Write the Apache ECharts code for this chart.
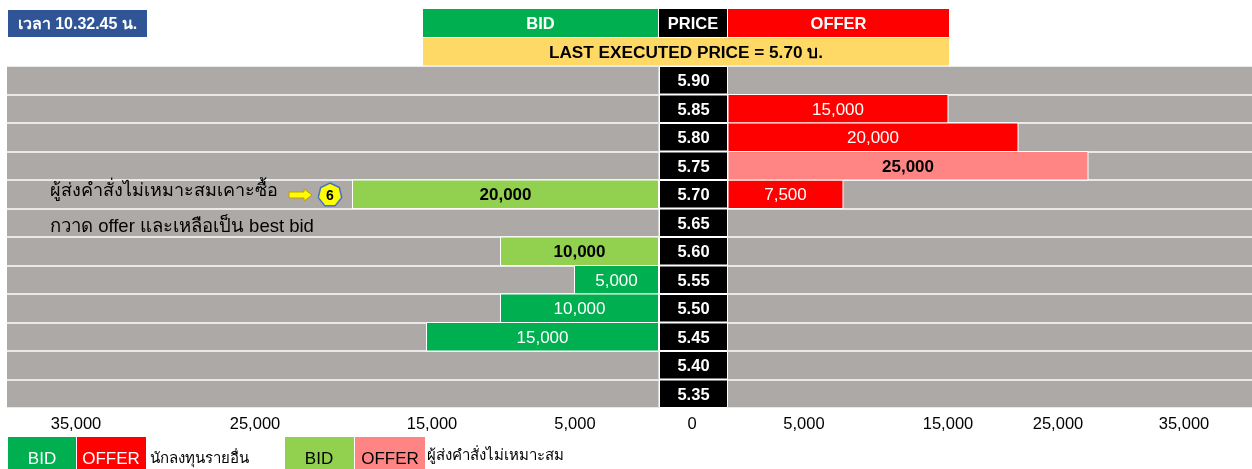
<!DOCTYPE html>
<html><head><meta charset="utf-8">
<style>html,body{margin:0;padding:0;background:#fff}#c{width:1252px;height:469px}</style>
<script src="https://cdn.jsdelivr.net/npm/echarts@6/dist/echarts.min.js"></script>
</head><body><div id="c"></div>
<script>
const prices = ['5.90','5.85','5.80','5.75','5.70','5.65','5.60','5.55','5.50','5.45','5.40','5.35'];
const bidOther      = [null,null,null,null,null,null,null,5000,10000,15000,null,null];
const bidImproper   = [null,null,null,null,20000,null,10000,null,null,null,null,null];
const offerOther    = [null,15000,20000,null,7500,null,null,null,null,null,null,null];
const offerImproper = [null,null,null,25000,null,null,null,null,null,null,null,null];
const tickLabels = ['35,000','25,000','15,000','5,000','0','5,000','15,000','25,000','35,000'];
const tickCentres = [76,255,432,575,692,804,948,1058,1184];

const FONT = '"Liberation Sans", Arial, sans-serif';
const THAI = '"Liberation Sans", "Noto Sans", "DejaVu Sans", sans-serif';
const GREEN='#00B050', LGREEN='#92D050', RED='#FF0000', PINK='#FF8585', GRAY='#ADA9A7';
const TOP=66, H=342;
const BID_MIN=-676, BID_MAX=43345, OFFER_MIN=-714, OFFER_MAX=36714;

function valAxis(idx, min, max, inverse){
  return {gridIndex:idx,type:'value',min,max,inverse,show:false};
}
function catAxis(idx){
  return {gridIndex:idx,type:'category',data:prices,inverse:true,
    axisLine:{show:false},axisTick:{show:false},axisLabel:{show:false},
    splitLine:{show:true,interval:0,lineStyle:{color:'#fff',width:1.5}}};
}
// Bars start at the edge of the price column, which is the axis minimum.
function bar(name,idx,values,axisMin,color,labelColor,bold){
  return {name,type:'custom',xAxisIndex:idx,yAxisIndex:idx,z:3,
    encode:{x:0,y:1},
    data:values.map((v,i)=>v==null?null:[v,i]).filter(Boolean),
    renderItem(params,api){
      const v=api.value(0), i=api.value(1);
      const end=api.coord([v,i]), start=api.coord([axisMin,i]);
      const h=api.size([0,1])[1];
      const x=Math.min(start[0],end[0]), w=Math.abs(end[0]-start[0]);
      return {type:'group',children:[
        {type:'rect',shape:{x,y:end[1]-h/2,width:w,height:h},
          style:{fill:color,stroke:'#fff',lineWidth:1}},
        {type:'text',style:{x:x+w/2,y:end[1]+1.5,text:v.toLocaleString('en-US'),fill:labelColor,
          font:(bold?'bold ':'')+'17px '+FONT,align:'center',verticalAlign:'middle'}}
      ]};
    }};
}
function box(x,y,w,h,fill,text,color,size,bold){
  const el={type:'rect',shape:{x,y,width:w,height:h},style:{fill},z:20};
  return text?{type:'group',children:[el,{type:'text',x:x+w/2,y:y+h/2+1.5,z:21,
    style:{text,fill:color,font:(bold?'bold ':'')+size+'px '+THAI,align:'center',verticalAlign:'middle'}}]}:el;
}
function txt(x,y,text,size,align,bold){
  return {type:'text',x,y,z:21,style:{text,fill:'#000',font:(bold?'bold ':'')+size+'px '+THAI,
    align:align||'left',verticalAlign:'middle'}};
}
function legendText(x,text,color){
  return {type:'text',x,y:459,z:21,style:{text,fill:color,font:'17px '+FONT,align:'center',verticalAlign:'middle'}};
}
const hept=[];
for(let i=0;i<7;i++){const a=-Math.PI/2+i*2*Math.PI/7;hept.push([330+12*Math.cos(a),195+12*Math.sin(a)]);}

const graphics=[
  box(8,10,139,27,'#2F5597','เวลา 10.32.45 น.','#fff',16,true),
  box(423,9,235,28,GREEN,'BID','#fff',16.5,true),
  box(659,9,68,28,'#000','PRICE','#fff',16.5,true),
  box(728,9,221,28,RED,'OFFER','#fff',16.5,true),
  box(423,38,526,27.5,'#FFD966','LAST EXECUTED PRICE = 5.70 บ.','#000',17.2,true),
  txt(50,191,'ผู้ส่งคำสั่งไม่เหมาะสมเคาะซื้อ',18),
  txt(50,227,'กวาด offer และเหลือเป็น best bid',18.5),
  {type:'polygon',z:21,shape:{points:[[289,192],[304,192],[304,189],[312,195],[304,201],[304,198],[289,198]]},
    style:{fill:'#FFFF00',stroke:'#C99A00',lineWidth:1}},
  {type:'polygon',z:21,shape:{points:hept},style:{fill:'#FFFF00',stroke:'#4472C4',lineWidth:1.5}},
  txt(330,196,'6',14,'center',true),
  box(8,437,68,32,GREEN,'','',0),
  box(77,437,69,32,RED,'','',0),
  box(285,437,69,32,LGREEN,'','',0),
  box(355,437,70,32,PINK,'','',0),
  legendText(42,'BID','#fff'),
  legendText(111,'OFFER','#fff'),
  legendText(319,'BID','#000'),
  legendText(390,'OFFER','#000'),
  txt(150,459,'นักลงทุนรายอื่น',15),
  txt(427,456,'ผู้ส่งคำสั่งไม่เหมาะสม',15),
];
tickLabels.forEach((t,i)=>graphics.push(txt(tickCentres[i],424,t,16.5,'center')));

const chart=echarts.init(document.getElementById('c'),null,{renderer:'canvas'});
chart.setOption({
  animation:false,
  grid:[
    {left:7,width:651.5,top:TOP,height:H,show:true,backgroundColor:GRAY,borderWidth:0},
    {left:728,width:524,top:TOP,height:H,show:true,backgroundColor:GRAY,borderWidth:0},
    {left:659,width:69,top:TOP,height:H,borderWidth:0}
  ],
  xAxis:[valAxis(0,BID_MIN,BID_MAX,true),valAxis(1,OFFER_MIN,OFFER_MAX,false),valAxis(2,0,1,false)],
  yAxis:[catAxis(0),catAxis(1),catAxis(2)],
  series:[
    bar('BID other',0,bidOther,BID_MIN,GREEN,'#fff',false),
    bar('BID improper',0,bidImproper,BID_MIN,LGREEN,'#000',true),
    bar('OFFER other',1,offerOther,OFFER_MIN,RED,'#fff',false),
    bar('OFFER improper',1,offerImproper,OFFER_MIN,PINK,'#000',true),
    {name:'PRICE',type:'bar',xAxisIndex:2,yAxisIndex:2,z:6,barWidth:'100%',
      data:prices.map(()=>1),
      itemStyle:{color:'#000',borderColor:'#fff',borderWidth:1},
      label:{show:true,position:'inside',offset:[0,1.5],formatter:p=>p.name,color:'#fff',fontFamily:FONT,fontSize:16.5,fontWeight:'bold'}}
  ],
  graphic:{elements:graphics}
});
</script></body></html>
